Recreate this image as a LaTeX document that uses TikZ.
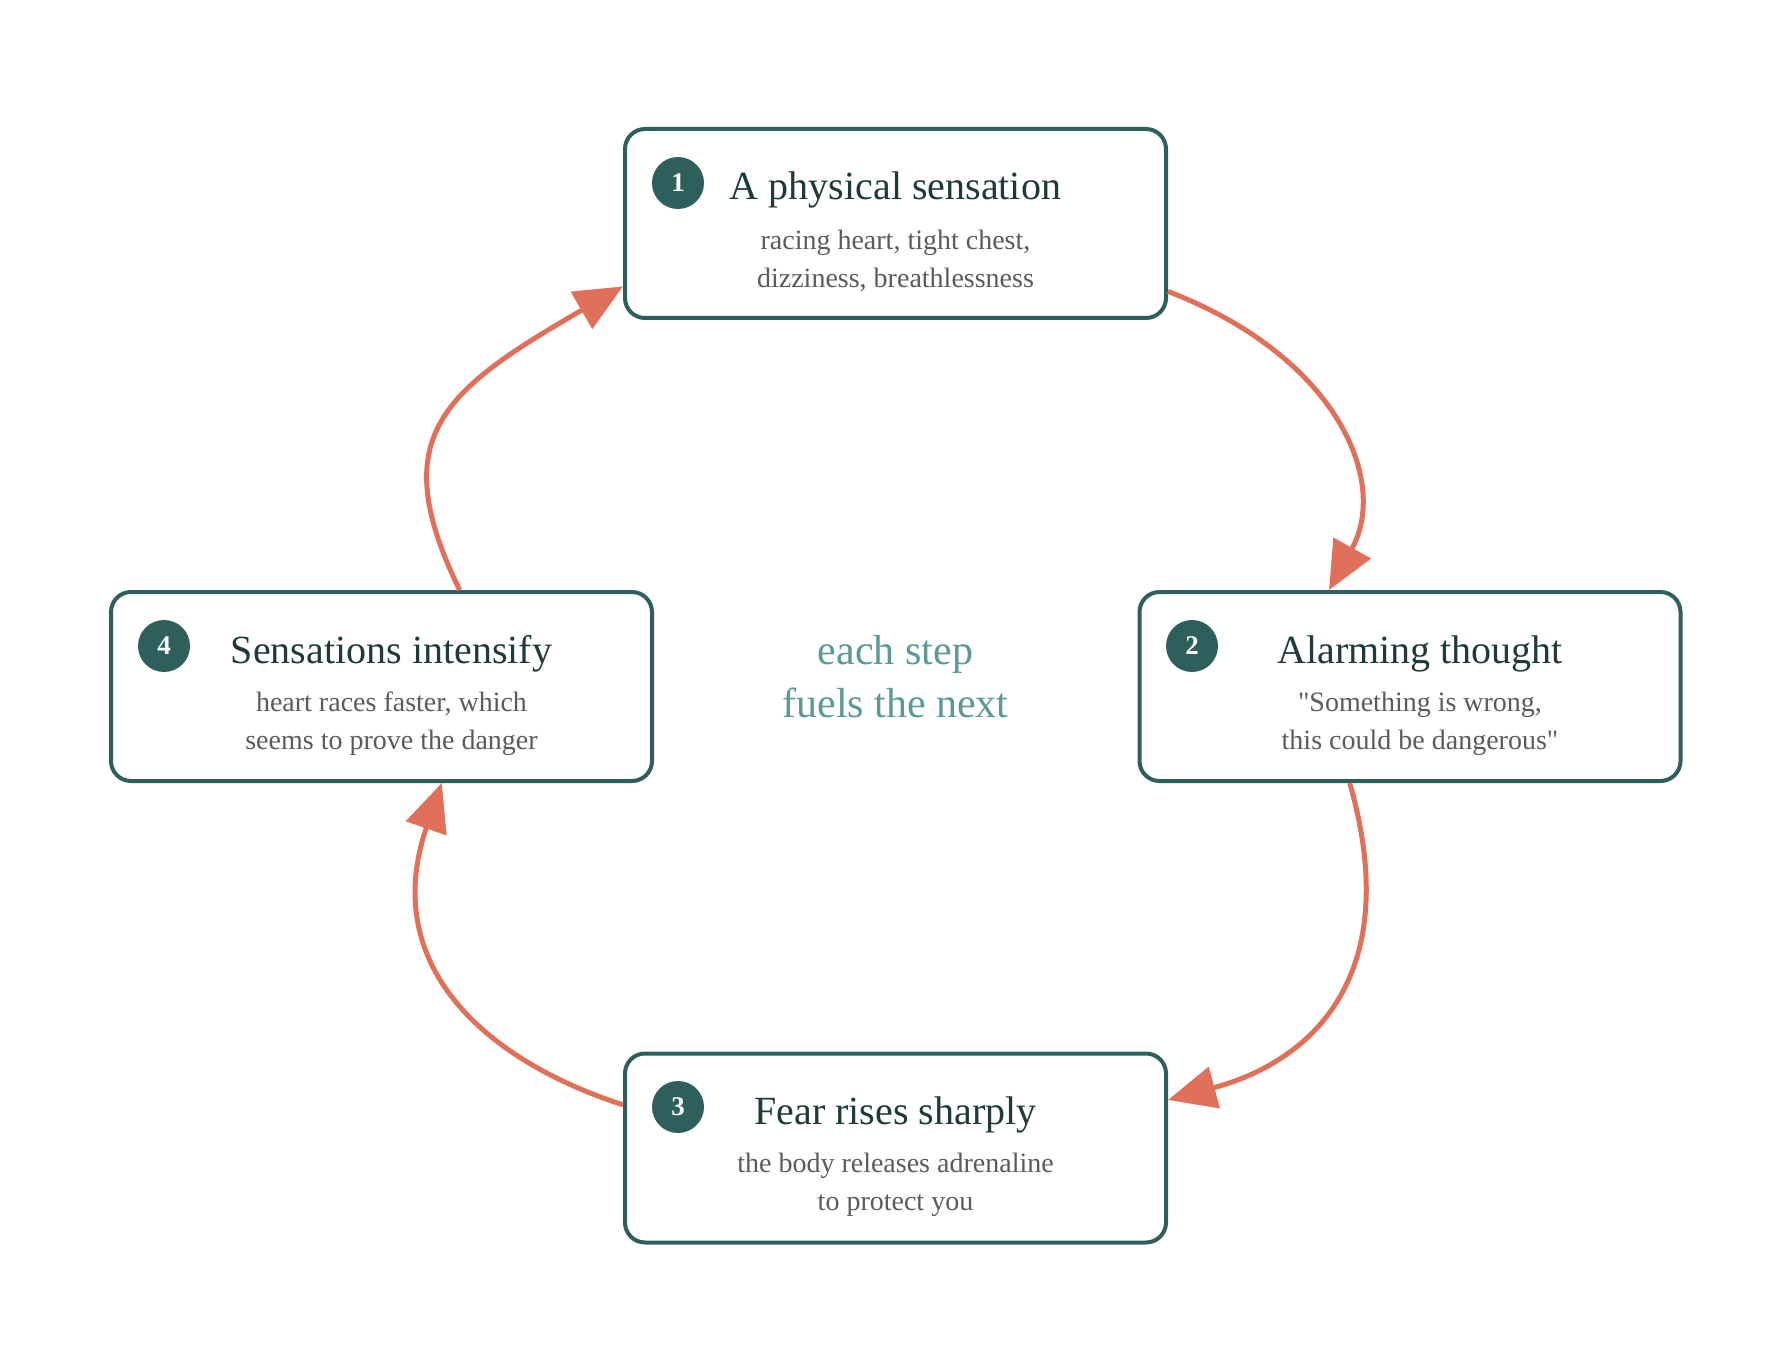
\documentclass[tikz,border=0pt]{standalone}
\usepackage{fontspec}
\setmainfont{Liberation Serif}
\newfontfamily\straightquote{Liberation Serif}
\usetikzlibrary{arrows.meta}

\definecolor{cardline}{HTML}{2F5F5C}
\definecolor{headink}{HTML}{1F3A3A}
\definecolor{detailink}{HTML}{5B5B5B}
\definecolor{noteink}{HTML}{5A9995}
\definecolor{arrowink}{HTML}{E0705A}

\newcommand{\dq}{{\straightquote"}}

\tikzset{
  card/.style={draw=cardline, line width=4pt, rounded corners=20pt, fill=white,
    minimum width=541pt, minimum height=189pt},
  badge/.style={circle, fill=cardline, text=white, minimum size=52pt, inner sep=0pt,
    font=\fontsize{27}{27}\selectfont\bfseries},
  heading/.style={anchor=base, text=headink, font=\fontsize{40}{44}\selectfont},
  detail/.style={align=center, text=detailink, font=\fontsize{28}{38}\selectfont},
  cyclearrow/.style={draw=arrowink, line width=5pt, -{Triangle[length=48pt, width=42pt]}}
}

\begin{document}
\begin{tikzpicture}[x=1pt, y=1pt]
\fill[white] (0,0) rectangle (1792,-1372);
\useasboundingbox (0,0) rectangle (1792,-1372);

\node[card] (box1) at (895.5,-223.5) {};
\node[card] (box2) at (1410,-686.5) {};
\node[card] (box3) at (895.5,-1148) {};
\node[card] (box4) at (381.5,-686.5) {};

\node[badge] (num1) at (678,-183) {1};
\node[badge] (num2) at (1192,-646) {2};
\node[badge] (num3) at (678,-1107) {3};
\node[badge] (num4) at (164,-646) {4};

\node[heading] (title1) at (895.5,-200) {A physical sensation};
\node[heading] (title2) at (1420,-663) {Alarming thought};
\node[heading] (title3) at (895.5,-1124) {Fear rises sharply};
\node[heading] (title4) at (391.5,-663) {Sensations intensify};

\node[detail] (sub1) at (895.5,-261) {racing heart, tight chest,\\dizziness, breathlessness};
\node[detail] (sub2) at (1420,-724) {\dq Something is wrong,\\this could be dangerous\dq};
\node[detail] (sub3) at (895.5,-1185) {the body releases adrenaline\\to protect you};
\node[detail] (sub4) at (391.5,-724) {heart races faster, which\\seems to prove the danger};

\node[align=center, text=noteink, font=\fontsize{42}{53}\selectfont] (note) at (895.5,-677) {each step\\fuels the next};

% the cycle, clockwise
\foreach \p/\a/\q/\b in {box1.-14/-21:180/box2.130/61:125,
                         box2.238/-74:200/box3.10/15:150,
                         box3.171/162:150/box4.-58/251:190,
                         box4.51/116:170/box1.193/210:210}
{\draw[cyclearrow] (\p) .. controls +(\a) and +(\b) .. (\q);}
\end{tikzpicture}
\end{document}
